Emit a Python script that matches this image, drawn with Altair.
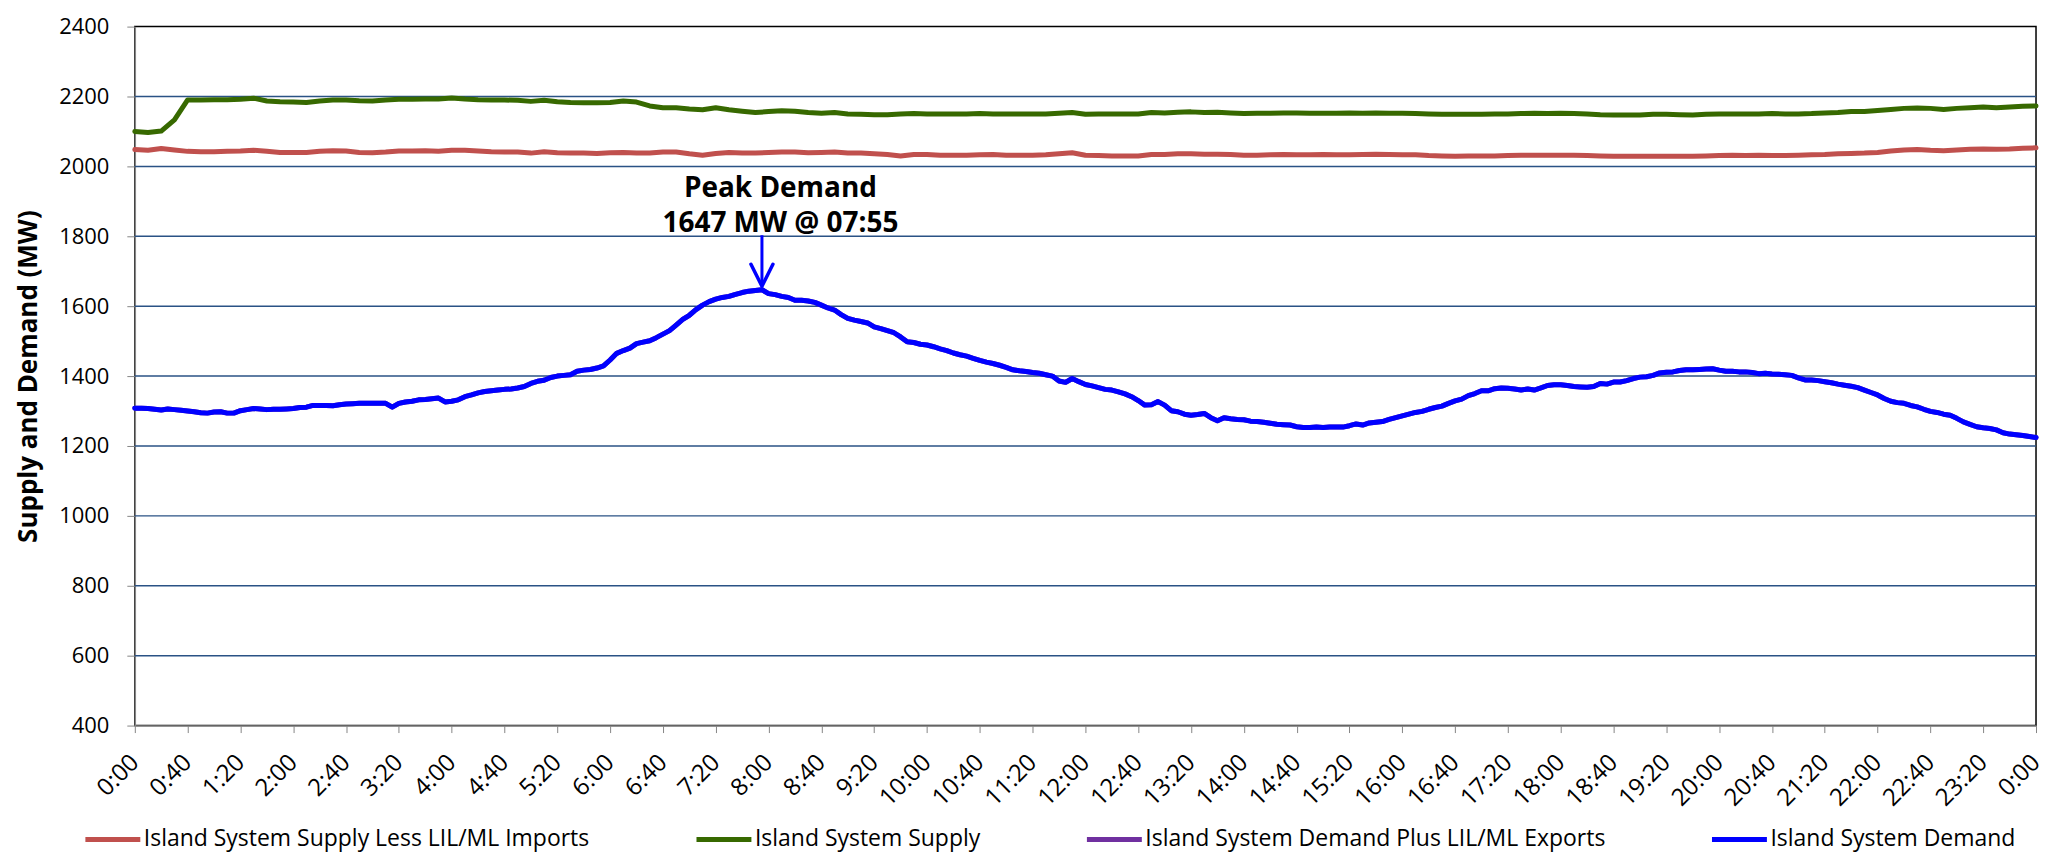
import altair as alt
import pandas as pd

# ---------------- data ----------------
# Island System Demand, every 5 minutes from 0:00 to 24:00 (one row per hour)
demand_5min = [
    1308, 1308, 1307, 1305, 1303, 1306, 1304, 1302, 1300, 1298, 1295, 1294,
    1297, 1298, 1294, 1294, 1301, 1304, 1307, 1306, 1304, 1305, 1305, 1306,
    1307, 1310, 1311, 1316, 1316, 1316, 1315, 1318, 1320, 1321, 1322, 1322,
    1322, 1322, 1322, 1311, 1322, 1326, 1328, 1332, 1333, 1335, 1337, 1326,
    1328, 1332, 1341, 1346, 1352, 1356, 1358, 1360, 1362, 1363, 1366, 1370,
    1379, 1385, 1388, 1396, 1400, 1402, 1404, 1414, 1417, 1419, 1423, 1429,
    1446, 1465, 1473, 1480, 1493, 1497, 1501, 1510, 1520, 1530, 1546, 1562,
    1574, 1590, 1603, 1613, 1620, 1625, 1628, 1634, 1639, 1643, 1645, 1647,
    1636, 1633, 1628, 1625, 1617, 1617, 1615, 1611, 1603, 1595, 1589, 1576,
    1565, 1560, 1556, 1552, 1541, 1536, 1530, 1524, 1512, 1498, 1496, 1491,
    1489, 1484, 1478, 1473, 1466, 1461, 1457, 1451, 1445, 1440, 1436, 1431,
    1425, 1418, 1415, 1413, 1410, 1408, 1404, 1400, 1386, 1382, 1393, 1384,
    1376, 1372, 1367, 1362, 1360, 1355, 1349, 1341, 1330, 1317, 1318, 1327,
    1317, 1301, 1298, 1291, 1288, 1290, 1293, 1281, 1272, 1281, 1278, 1276,
    1275, 1271, 1270, 1268, 1265, 1262, 1261, 1260, 1255, 1253, 1253, 1254,
    1253, 1254, 1254, 1254, 1258, 1263, 1260, 1266, 1268, 1270, 1276, 1281,
    1286, 1291, 1296, 1299, 1305, 1310, 1314, 1322, 1329, 1334, 1344, 1350,
    1358, 1358, 1364, 1366, 1365, 1363, 1360, 1363, 1360, 1366, 1373, 1375,
    1375, 1373, 1370, 1369, 1368, 1370, 1379, 1377, 1383, 1383, 1387, 1393,
    1397, 1398, 1402, 1409, 1411, 1412, 1416, 1418, 1418, 1419, 1420, 1421,
    1417, 1414, 1414, 1412, 1412, 1410, 1407, 1408, 1406, 1405, 1404, 1402,
    1395, 1389, 1389, 1387, 1384, 1381, 1377, 1374, 1371, 1367, 1360, 1353,
    1346, 1336, 1328, 1324, 1322, 1316, 1312, 1305, 1299, 1296, 1291, 1288,
    1279, 1269, 1262, 1255, 1252, 1250, 1246, 1238, 1234, 1232, 1230, 1227,
    1224,
]
# Island System Demand Plus LIL/ML Exports (no exports: same as demand)
demand_plus_exports_5min = list(demand_5min)

# Island System Supply, every 10 minutes (one row per hour)
supply_10min = [
    2100, 2097, 2101, 2133, 2190, 2190,
    2191, 2191, 2192, 2195, 2187, 2185,
    2184, 2183, 2187, 2190, 2190, 2188,
    2187, 2190, 2192, 2192, 2193, 2193,
    2196, 2193, 2191, 2190, 2190, 2189,
    2186, 2189, 2185, 2183, 2182, 2182,
    2183, 2187, 2184, 2173, 2168, 2168,
    2164, 2162, 2168, 2162, 2158, 2154,
    2157, 2159, 2158, 2154, 2152, 2154,
    2150, 2149, 2148, 2148, 2150, 2151,
    2150, 2150, 2150, 2150, 2151, 2150,
    2150, 2150, 2150, 2150, 2152, 2154,
    2149, 2150, 2150, 2150, 2150, 2154,
    2153, 2155, 2156, 2154, 2155, 2153,
    2151, 2152, 2152, 2153, 2153, 2152,
    2152, 2152, 2153, 2152, 2153, 2152,
    2152, 2151, 2150, 2149, 2149, 2149,
    2149, 2150, 2150, 2151, 2152, 2151,
    2152, 2151, 2150, 2148, 2147, 2147,
    2147, 2149, 2149, 2148, 2147, 2149,
    2150, 2150, 2150, 2150, 2151, 2150,
    2150, 2151, 2153, 2154, 2157, 2157,
    2160, 2163, 2166, 2167, 2166, 2163,
    2166, 2168, 2170, 2168, 2170, 2172,
    2173,
]

# Island System Supply Less LIL/ML Imports, every 10 minutes
supply_less_imports_10min = [
    2048, 2046, 2051, 2047, 2043, 2042,
    2042, 2043, 2044, 2046, 2043, 2040,
    2040, 2040, 2043, 2045, 2044, 2040,
    2039, 2041, 2044, 2044, 2045, 2043,
    2046, 2046, 2044, 2042, 2041, 2041,
    2038, 2042, 2039, 2038, 2038, 2037,
    2039, 2040, 2038, 2038, 2041, 2041,
    2036, 2032, 2037, 2040, 2038, 2038,
    2040, 2041, 2041, 2039, 2040, 2041,
    2038, 2038, 2036, 2034, 2030, 2034,
    2034, 2032, 2032, 2032, 2033, 2034,
    2032, 2032, 2032, 2033, 2036, 2039,
    2032, 2031, 2030, 2030, 2030, 2034,
    2034, 2036, 2036, 2035, 2035, 2034,
    2032, 2032, 2033, 2034, 2033, 2033,
    2034, 2033, 2033, 2034, 2035, 2034,
    2033, 2033, 2031, 2030, 2029, 2030,
    2030, 2030, 2031, 2032, 2032, 2032,
    2032, 2032, 2031, 2030, 2029, 2029,
    2029, 2029, 2029, 2029, 2029, 2030,
    2031, 2032, 2031, 2032, 2031, 2031,
    2032, 2033, 2034, 2036, 2037, 2038,
    2040, 2044, 2047, 2048, 2046, 2045,
    2047, 2049, 2050, 2049, 2050, 2052,
    2053,
]

times_5min = list(range(0, 1441, 5))     # minutes after midnight
times_10min = list(range(0, 1441, 10))

series_names = [
    "Island System Supply Less LIL/ML Imports",
    "Island System Supply",
    "Island System Demand Plus LIL/ML Exports",
    "Island System Demand",
]
series_colors = ["#C0504D", "#376900", "#7030A0", "#0000FF"]
series_widths = [5, 5, 6, 6]

y_tick_values = list(range(400, 2401, 200))
grid_values = list(range(600, 2201, 200))
x_tick_values = list(range(0, 1441, 5))

peak_time = 475          # 07:55
peak_value = 1647
annotation_lines = ["Peak Demand", "1647 MW @ 07:55"]
annotation_time = 489
annotation_value = 1911
arrow_top_value = 1803
arrow_tip_value = 1657

# ---------------- build table ----------------
rows = []
for t, v in zip(times_10min, supply_less_imports_10min):
    rows.append({"t": t, "value": v, "series": series_names[0]})
for t, v in zip(times_10min, supply_10min):
    rows.append({"t": t, "value": v, "series": series_names[1]})
for t, v in zip(times_5min, demand_plus_exports_5min):
    rows.append({"t": t, "value": v, "series": series_names[2]})
for t, v in zip(times_5min, demand_5min):
    rows.append({"t": t, "value": v, "series": series_names[3]})
df = pd.DataFrame(rows)

x_scale = alt.Scale(domain=[0, 1440], nice=False, zero=False)
y_scale = alt.Scale(domain=[400, 2400], nice=False, zero=False)

label_expr = (
    "datum.value % 40 == 0 ? "
    "(floor(datum.value / 60) % 24) + ':' + "
    "(datum.value % 60 == 0 ? '00' : '' + (datum.value % 60)) : ''"
)

x_axis = alt.Axis(
    values=x_tick_values, labelExpr=label_expr, title=None, grid=False,
    labelAngle=315, labelAlign="right", labelBaseline="middle",
    labelPadding=26, labelOverlap=False, labelFlush=False, labelBound=False,
    tickSize=7, tickColor="#868686", domainColor="#868686", domainWidth=1.5,
    labelFont="Open Sans", labelFontSize=24, labelColor="#000000",
)
y_axis = alt.Axis(
    values=y_tick_values, format="d", grid=False, title="Supply and Demand (MW)",
    tickSize=8, tickColor="#868686", domainColor="#868686", domainWidth=1.5,
    labelPadding=18, labelFont="Open Sans", labelFontSize=22, labelColor="#000000",
    titleFont="Open Sans", titleFontSize=26, titleFontWeight="bold",
    titleColor="#000000", titleAngle=270, titleX=-106, titleY=350,
    titleAlign="center", titleBaseline="middle",
)

grid = alt.Chart(pd.DataFrame({"g": grid_values})).mark_rule(
    color="#2A5285", strokeWidth=1.5
).encode(y=alt.Y("g:Q", scale=y_scale, axis=y_axis))

lines = alt.Chart(df).mark_line(strokeCap="round", strokeJoin="round").encode(
    x=alt.X("t:Q", scale=x_scale, axis=x_axis),
    y=alt.Y("value:Q", scale=y_scale, axis=y_axis),
    color=alt.Color(
        "series:N",
        scale=alt.Scale(domain=series_names, range=series_colors),
        legend=alt.Legend(
            title=None, orient="none", legendX=-52, legendY=784,
            direction="horizontal", columns=4, gridAlign="each",
            symbolType="stroke", symbolSize=3025, symbolStrokeWidth=6,
            labelFont="Open Sans", labelFontSize=23, labelColor="#000000",
            labelLimit=0, labelOffset=1, columnPadding=96, padding=0,
        ),
    ),
    strokeWidth=alt.StrokeWidth(
        "series:N", scale=alt.Scale(domain=series_names, range=series_widths), legend=None
    ),
    order=alt.Order("t:Q"),
)

arrow_df = pd.DataFrame({"t": [peak_time], "top": [arrow_top_value], "tip": [arrow_tip_value]})
arrow_shaft = alt.Chart(arrow_df).mark_rule(color="#0000FF", strokeWidth=3).encode(
    x=alt.X("t:Q", scale=x_scale), y=alt.Y("top:Q", scale=y_scale), y2="tip:Q"
)
arrow_head = alt.Chart(arrow_df).mark_point(
    shape="M-1,-2L0,0L1,-2", filled=False, size=484, strokeWidth=3.5,
    color="#0000FF", opacity=1, strokeCap="round", strokeJoin="round",
).encode(x=alt.X("t:Q", scale=x_scale), y=alt.Y("tip:Q", scale=y_scale))

note_df = pd.DataFrame({"t": [annotation_time], "v": [annotation_value]})
note = alt.Chart(note_df).mark_text(
    text=annotation_lines, font="Open Sans", fontSize=28, fontWeight="bold",
    color="#000000", align="center", baseline="alphabetic", lineHeight=35,
).encode(x=alt.X("t:Q", scale=x_scale), y=alt.Y("v:Q", scale=y_scale))

chart = alt.layer(grid, lines, arrow_shaft, arrow_head, note).properties(
    width=1904, height=700,
    padding={"left": 127, "top": 18, "right": 10, "bottom": 128},
    autosize=alt.AutoSizeParams(type="none"),
    background="#FFFFFF",
).configure_view(stroke="#000000", strokeWidth=1.5)

chart.save("out.html", embed_options={"renderer": "svg", "actions": False})
